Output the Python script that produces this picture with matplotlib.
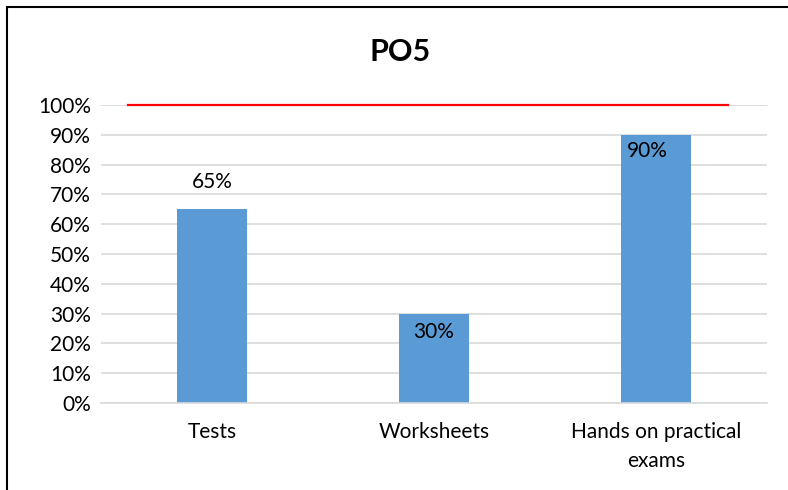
import numpy as np
import matplotlib.pyplot as plt
from matplotlib.patches import Rectangle

categories = ["Tests", "Worksheets", "Hands on practical\nexams"]
values = [0.65, 0.30, 0.90]
labels = ["65%", "30%", "90%"]
target = 1.0
yticks = np.arange(0, 1.01, 0.1)

plt.rcParams['font.family'] = ['Lato', 'DejaVu Sans']

fig = plt.figure(figsize=(7.88, 4.9), dpi=100)
ax = fig.add_axes([0.128, 0.1776, 0.845, 0.6081])

x = np.arange(len(categories))
ax.bar(x, values, width=0.315, color='#5B9BD5', zorder=2)

# target line
ax.plot([-0.378, 2.324], [target, target], color='#FF0000', lw=1.6, zorder=3, clip_on=False)

# data labels (Excel placed them inconsistently)
offsets = [(0, 19.5), (0, -13.5), (-6, -12)]
for xi, v, lab, off in zip(x, values, labels, offsets):
    ax.annotate(lab, (xi, v), xytext=off, textcoords='offset points',
                ha='center', va='center', fontsize=15, color='black', zorder=4)

ax.set_xlim(-0.5, 2.5)
ax.set_ylim(0, 1.0)
ax.set_yticks(yticks)
ax.set_yticklabels([f"{int(round(t*100))}%" for t in yticks], fontsize=15)
ax.set_xticks(x)
ax.set_xticklabels(categories, fontsize=15, linespacing=1.55)
ax.tick_params(length=0, pad=7)
ax.tick_params(axis='x', pad=14)
ax.grid(axis='y', color='#D9D9D9', lw=1.2, zorder=0)
ax.set_axisbelow(True)
for s in ax.spines.values():
    s.set_visible(False)
ax.spines['bottom'].set_visible(True)
ax.spines['bottom'].set_color('#D9D9D9')
ax.spines['bottom'].set_linewidth(1.2)

fig.text(0.508, 0.893, "PO5", ha='center', va='center', fontsize=22, fontweight='bold')

# outer chart border
fig.patches.append(Rectangle((7/788, -0.1), 1.2, 1 - 7/490 + 0.1, transform=fig.transFigure,
                             fill=False, edgecolor='black', lw=1.5))

fig.savefig('out.png', dpi=100)
